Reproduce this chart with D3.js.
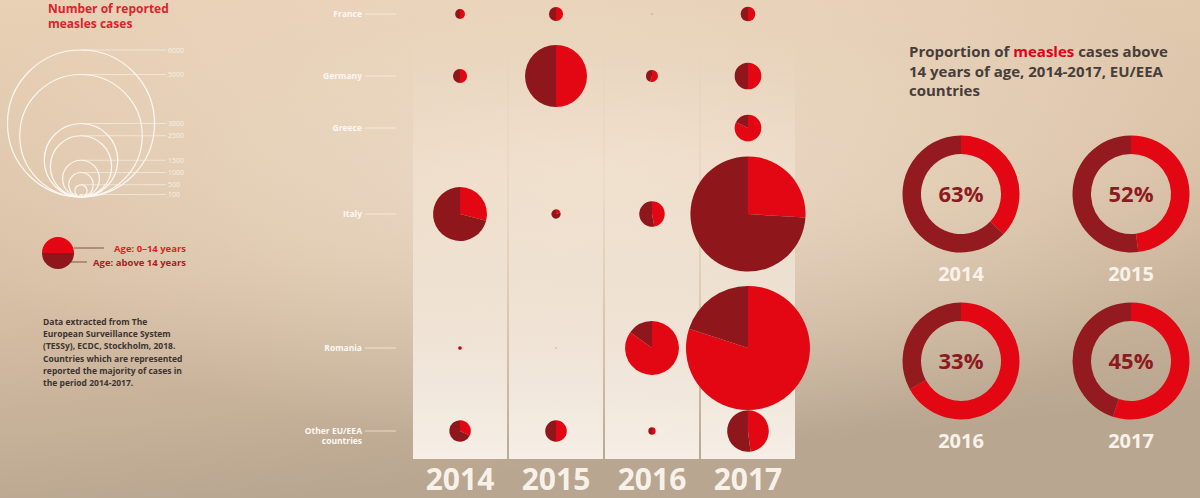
<!DOCTYPE html>
<html>
<head>
<meta charset="utf-8">
<script src="https://cdn.jsdelivr.net/npm/d3@7"></script>
<style>
  html, body { margin: 0; padding: 0; background: #d8c3aa; }
  svg { display: block; font-family: 'Open Sans', sans-serif; }
</style>
</head>
<body>
<svg id="chart" width="1200" height="498"></svg>
<script>
/* ============================================
   DATA
   ============================================ */

const years = ['2014', '2015', '2016', '2017'];
const countries = ['France', 'Germany', 'Greece', 'Italy', 'Romania', 'Other EU/EEA countries'];

// reported measles cases per year
const casesFrance  = [400, 570, 40, 600];
const casesGermany = [570, 2530, 490, 1090];
const casesGreece  = [0, 0, 0, 1090];
const casesItaly   = [2200, 380, 1040, 4700];
const casesRomania = [150, 40, 2200, 5060];
const casesOther   = [880, 880, 300, 1700];

// share of cases above 14 years of age
const above14France  = [0.5, 0.5, 0.5, 0.5];
const above14Germany = [0.5, 0.5, 0.45, 0.5];
const above14Greece  = [0, 0, 0, 0.18];
const above14Italy   = [0.71, 0.8, 0.53, 0.74];
const above14Romania = [0.5, 0.5, 0.15, 0.2];
const above14Other   = [0.68, 0.5, 0.5, 0.52];

const legendValues = [6000, 5000, 3000, 2500, 1500, 1000, 500, 100];

// proportion above 14 years, all EU/EEA countries (percent)
const donutAbove14 = [63, 52, 33, 45];

const sourceLines = [
  'Data extracted from The',
  'European Surveillance System',
  '(TESSy), ECDC, Stockholm, 2018.',
  'Countries which are represented',
  'reported the majority of cases in',
  'the period 2014-2017.'
];

const titleLines = [
  ['Proportion of ', 'measles', ' cases above'],
  ['14 years of age, 2014-2017, EU/EEA'],
  ['countries']
];

/* ============================================ */

const RED = '#e30613';
const DARK = '#8f161b';

const allCases = [casesFrance, casesGermany, casesGreece, casesItaly, casesRomania, casesOther];
const allAbove = [above14France, above14Germany, above14Greece, above14Italy, above14Romania, above14Other];

const rows = countries.map((c, i) => ({
  country: c,
  values: years.map((y, j) => ({ year: y, cases: allCases[i][j], above: allAbove[i][j] }))
}));

const svg = d3.select('#chart');
const defs = svg.append('defs');

// background gradients
const bg = defs.append('linearGradient').attr('id', 'bg')
  .attr('x1', 0).attr('y1', 0).attr('x2', 0.25).attr('y2', 1);
bg.append('stop').attr('offset', 0).attr('stop-color', '#e9d1b6');
bg.append('stop').attr('offset', 0.55).attr('stop-color', '#d8c0a5');
bg.append('stop').attr('offset', 1).attr('stop-color', '#b9a690');

const glow = defs.append('radialGradient').attr('id', 'glow')
  .attr('cx', 0.5).attr('cy', 0.35).attr('r', 0.55);
glow.append('stop').attr('offset', 0).attr('stop-color', '#f5e6d5').attr('stop-opacity', 0.7);
glow.append('stop').attr('offset', 1).attr('stop-color', '#f5e6d5').attr('stop-opacity', 0);

const panelGrad = defs.append('linearGradient').attr('id', 'panel')
  .attr('x1', 0).attr('y1', 0).attr('x2', 0).attr('y2', 1);
panelGrad.append('stop').attr('offset', 0).attr('stop-color', '#f1e0cd').attr('stop-opacity', 0);
panelGrad.append('stop').attr('offset', 0.3).attr('stop-color', '#f2e3d2').attr('stop-opacity', 0.6);
panelGrad.append('stop').attr('offset', 1).attr('stop-color', '#f6efe7').attr('stop-opacity', 1);

svg.append('rect').attr('width', 1200).attr('height', 498).attr('fill', 'url(#bg)');
svg.append('rect').attr('width', 1200).attr('height', 498).attr('fill', 'url(#glow)');

/* ---------- scales ---------- */

const x = d3.scaleBand().domain(years).range([413, 795]).paddingInner(0.02);
const rowY = d3.scaleOrdinal().domain(countries).range([14, 76, 128, 214, 348, 431]);
const r = d3.scaleLinear().domain([0, 6000]).range([0, 73.5]);

const pie = d3.pie().sort(null).value(d => d);
const arc = d3.arc().innerRadius(0);

/* ---------- year panels ---------- */

svg.append('g')
  .selectAll('rect')
  .data(years)
  .join('rect')
  .attr('x', d => x(d))
  .attr('y', 40)
  .attr('width', x.bandwidth())
  .attr('height', 419)
  .attr('fill', 'url(#panel)');

svg.append('g')
  .selectAll('text')
  .data(years)
  .join('text')
  .attr('x', d => x(d) + x.bandwidth() / 2)
  .attr('y', 490)
  .attr('text-anchor', 'middle')
  .attr('font-size', 30)
  .attr('font-weight', 700)
  .attr('fill', '#f8f1e9')
  .text(d => d);

/* ---------- country labels ---------- */

const labels = svg.append('g')
  .selectAll('g')
  .data(countries)
  .join('g')
  .attr('transform', d => `translate(0,${rowY(d)})`);

labels.append('line')
  .attr('x1', 365).attr('x2', 396)
  .attr('stroke', '#fbf7f2').attr('stroke-opacity', 0.8).attr('stroke-width', 0.8);

labels.append('text')
  .attr('text-anchor', 'end')
  .attr('font-size', 8.5)
  .attr('font-weight', 700)
  .attr('fill', '#fcf8f4')
  .selectAll('tspan')
  .data(d => d.length > 12 ? ['Other EU/EEA', 'countries'] : [d])
  .join('tspan')
  .attr('x', 362)
  .attr('y', (d, i) => 3 + i * 9.5)
  .text(d => d);

/* ---------- pies ---------- */

const rowG = svg.append('g')
  .selectAll('g')
  .data(rows)
  .join('g');

const cell = rowG.selectAll('g')
  .data(d => d.values.map(v => ({ ...v, country: d.country })))
  .join('g')
  .attr('transform', d => `translate(${x(d.year) + x.bandwidth() / 2},${rowY(d.country)})`);

cell.selectAll('path')
  .data(d => pie([1 - d.above, d.above]).map(a => ({ ...a, rad: r(d.cases) })))
  .join('path')
  .attr('d', d => arc.outerRadius(d.rad)(d))
  .attr('fill', (d, i) => i === 0 ? RED : DARK);

/* ---------- size legend ---------- */

const legend = svg.append('g');
legend.append('text')
  .attr('font-size', 12).attr('font-weight', 700).attr('fill', '#d9242b')
  .selectAll('tspan')
  .data(['Number of reported', 'measles cases'])
  .join('tspan')
  .attr('x', 48)
  .attr('y', (d, i) => 13 + i * 15)
  .text(d => d);

const lg = legend.selectAll('g.size')
  .data(legendValues)
  .join('g')
  .attr('class', 'size');

lg.append('circle')
  .attr('cx', 81)
  .attr('cy', d => 197 - r(d))
  .attr('r', d => r(d))
  .attr('fill', 'none')
  .attr('stroke', '#fbf7f2')
  .attr('stroke-width', 1.2);

lg.append('line')
  .attr('x1', 81).attr('x2', 166)
  .attr('y1', d => 197 - 2 * r(d))
  .attr('y2', d => 197 - 2 * r(d))
  .attr('stroke', '#fbf7f2').attr('stroke-opacity', 0.8).attr('stroke-width', 0.7);

lg.append('text')
  .attr('x', 168)
  .attr('y', d => 197 - 2 * r(d) + 2.5)
  .attr('font-size', 7)
  .attr('fill', '#f6f0e9')
  .text(d => d);

/* ---------- age legend ---------- */

const ageG = svg.append('g').attr('transform', 'translate(58,253)');
ageG.selectAll('path')
  .data(d3.pie().sort(null).startAngle(-Math.PI / 2).endAngle(Math.PI * 1.5)([1, 1]))
  .join('path')
  .attr('d', d3.arc().innerRadius(0).outerRadius(16))
  .attr('fill', (d, i) => i === 0 ? RED : DARK);

const ageItems = [
  { label: 'Age: 0–14 years', y: 248, x1: 74, x2: 104, color: '#dd1f26' },
  { label: 'Age: above 14 years', y: 262, x1: 71, x2: 87, color: '#b01a22' }
];
const ai = svg.append('g').selectAll('g').data(ageItems).join('g');
ai.append('line')
  .attr('x1', d => d.x1).attr('x2', d => d.x2)
  .attr('y1', d => d.y).attr('y2', d => d.y)
  .attr('stroke', '#6b3b2e').attr('stroke-width', 0.8);
ai.append('text')
  .attr('x', 186)
  .attr('y', d => d.y + 3.5)
  .attr('text-anchor', 'end')
  .attr('font-size', 9.5)
  .attr('font-weight', 700)
  .attr('fill', d => d.color)
  .text(d => d.label);

/* ---------- source note ---------- */

svg.append('text')
  .attr('font-size', 8.5)
  .attr('font-weight', 700)
  .attr('fill', '#3d3431')
  .selectAll('tspan')
  .data(sourceLines)
  .join('tspan')
  .attr('x', 43)
  .attr('y', (d, i) => 325 + i * 12.2)
  .text(d => d);

/* ---------- right: proportion donuts ---------- */

const title = svg.append('text')
  .attr('font-size', 15)
  .attr('font-weight', 700)
  .attr('fill', '#473d3a');

title.selectAll('tspan.line')
  .data(titleLines)
  .join('tspan')
  .attr('class', 'line')
  .attr('x', 909)
  .attr('y', (d, i) => 57 + i * 19.5)
  .selectAll('tspan')
  .data(d => d)
  .join('tspan')
  .attr('fill', d => d === 'measles' ? '#e2001a' : null)
  .text(d => d);

const dx = d3.scalePoint().domain([0, 1]).range([961, 1131]);
const dy = d3.scalePoint().domain([0, 1]).range([194, 361]);
const donutArc = d3.arc().innerRadius(40).outerRadius(58.5);

const donut = svg.append('g')
  .selectAll('g')
  .data(years.map((y, i) => ({ year: y, pct: donutAbove14[i], col: i % 2, row: Math.floor(i / 2) })))
  .join('g')
  .attr('transform', d => `translate(${dx(d.col)},${dy(d.row)})`);

donut.selectAll('path')
  .data(d => pie([100 - d.pct, d.pct]))
  .join('path')
  .attr('d', donutArc)
  .attr('fill', (d, i) => i === 0 ? RED : '#931a1e');

donut.append('text')
  .attr('text-anchor', 'middle')
  .attr('y', 8)
  .attr('font-size', 22)
  .attr('font-weight', 700)
  .attr('fill', '#8d1a20')
  .text(d => d.pct + '%');

donut.append('text')
  .attr('text-anchor', 'middle')
  .attr('y', 87)
  .attr('font-size', 20)
  .attr('font-weight', 700)
  .attr('fill', '#f8f2ea')
  .text(d => d.year);
</script>
</body>
</html>
